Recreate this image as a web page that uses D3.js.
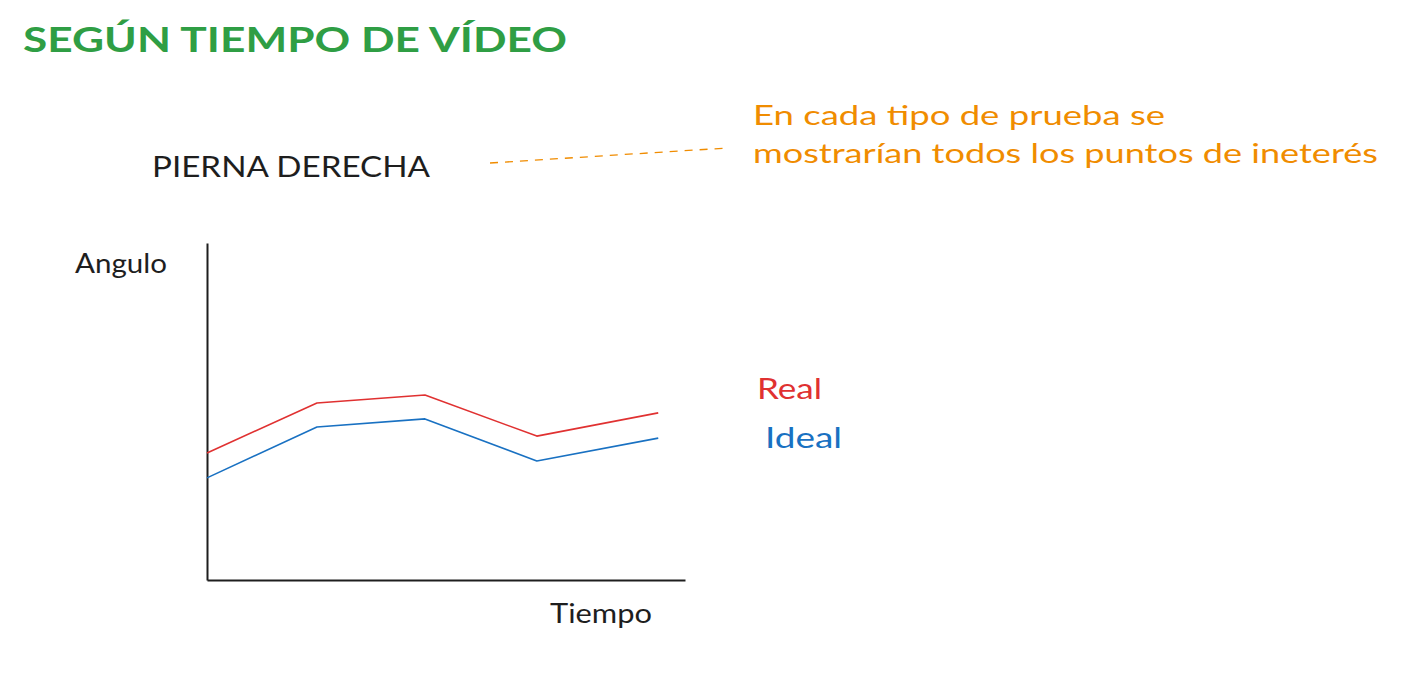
<!DOCTYPE html>
<html>
<head>
<meta charset="utf-8">
<script src="https://cdn.jsdelivr.net/npm/d3@7"></script>
<style>
  html, body { margin: 0; padding: 0; background: #ffffff; }
  svg { display: block; }
  text { font-family: "Lato", "Noto Sans", sans-serif; }
</style>
</head>
<body>
<svg id="chart" width="1406" height="693"></svg>
<script>
// ---- data ----
const times = [0, 23, 45.6, 69, 94.4];
const realValues = [37.7, 52.5, 54.9, 42.7, 49.6];
const idealValues = [30.3, 45.4, 47.8, 35.3, 42.1];
const seriesNames = ["Real", "Ideal"];
const titleText = "SEGÚN TIEMPO DE VÍDEO";
const subtitleText = "PIERNA DERECHA";
const noteLines = ["En cada tipo de prueba se", "mostrarían todos los puntos de ineterés"];
const yLabel = "Angulo";
const xLabel = "Tiempo";

// ---- drawing ----
const svg = d3.select("#chart");
const x = d3.scaleLinear().domain([0, 100]).range([207, 685]);
const y = d3.scaleLinear().domain([0, 100]).range([580, 243]);

const colors = { Real: "#e03131", Ideal: "#1971c2" };

// title
svg.append("text").attr("x", 23).attr("y", 52)
  .attr("font-size", 35).attr("font-weight", 700).attr("fill", "#2f9e44")
  .attr("textLength", 544).attr("lengthAdjust", "spacingAndGlyphs")
  .text(titleText);

// subtitle
svg.append("text").attr("x", 152).attr("y", 177)
  .attr("font-size", 29).attr("fill", "#1e1e1e")
  .attr("textLength", 278).attr("lengthAdjust", "spacingAndGlyphs")
  .text(subtitleText);

// dashed connector
svg.append("line").attr("x1", 490).attr("y1", 163).attr("x2", 727).attr("y2", 148)
  .attr("stroke", "#f08c00").attr("stroke-width", 1.3).attr("stroke-dasharray", "8 7");

// note
const noteLens = [412, 625];
const noteY = [125, 163];
noteLines.forEach((t, i) => {
  svg.append("text").attr("x", 753).attr("y", noteY[i])
    .attr("font-size", 27).attr("fill", "#f08c00")
    .attr("textLength", noteLens[i]).attr("lengthAdjust", "spacingAndGlyphs")
    .text(t);
});

// axes
const gy = svg.append("g").attr("transform", `translate(${x(0)},0)`)
  .call(d3.axisLeft(y).tickValues([]).tickSizeOuter(0));
const gx = svg.append("g").attr("transform", `translate(0,${y(0)})`)
  .call(d3.axisBottom(x).tickValues([]).tickSizeOuter(0));
[gy, gx].forEach(g => g.select(".domain").attr("stroke", "#1e1e1e").attr("stroke-width", 2));

// axis labels
svg.append("text").attr("x", 75).attr("y", 273)
  .attr("font-size", 27).attr("fill", "#1e1e1e")
  .attr("textLength", 92).attr("lengthAdjust", "spacingAndGlyphs").text(yLabel);
svg.append("text").attr("x", 550).attr("y", 623)
  .attr("font-size", 27).attr("fill", "#1e1e1e")
  .attr("textLength", 102).attr("lengthAdjust", "spacingAndGlyphs").text(xLabel);

// lines
const line = d3.line().x((d, i) => x(times[i])).y(d => y(d));
const data = { Real: realValues, Ideal: idealValues };
seriesNames.forEach(name => {
  svg.append("path").datum(data[name])
    .attr("d", line).attr("fill", "none")
    .attr("stroke", colors[name]).attr("stroke-width", 1.6)
    .attr("stroke-linejoin", "round");
});

// series labels
const labelPos = { Real: [757, 399, 65], Ideal: [765, 448, 77] };
seriesNames.forEach(name => {
  const p = labelPos[name];
  svg.append("text").attr("x", p[0]).attr("y", p[1])
    .attr("font-size", 29).attr("fill", colors[name])
    .attr("textLength", p[2]).attr("lengthAdjust", "spacingAndGlyphs").text(name);
});
</script>
</body>
</html>
